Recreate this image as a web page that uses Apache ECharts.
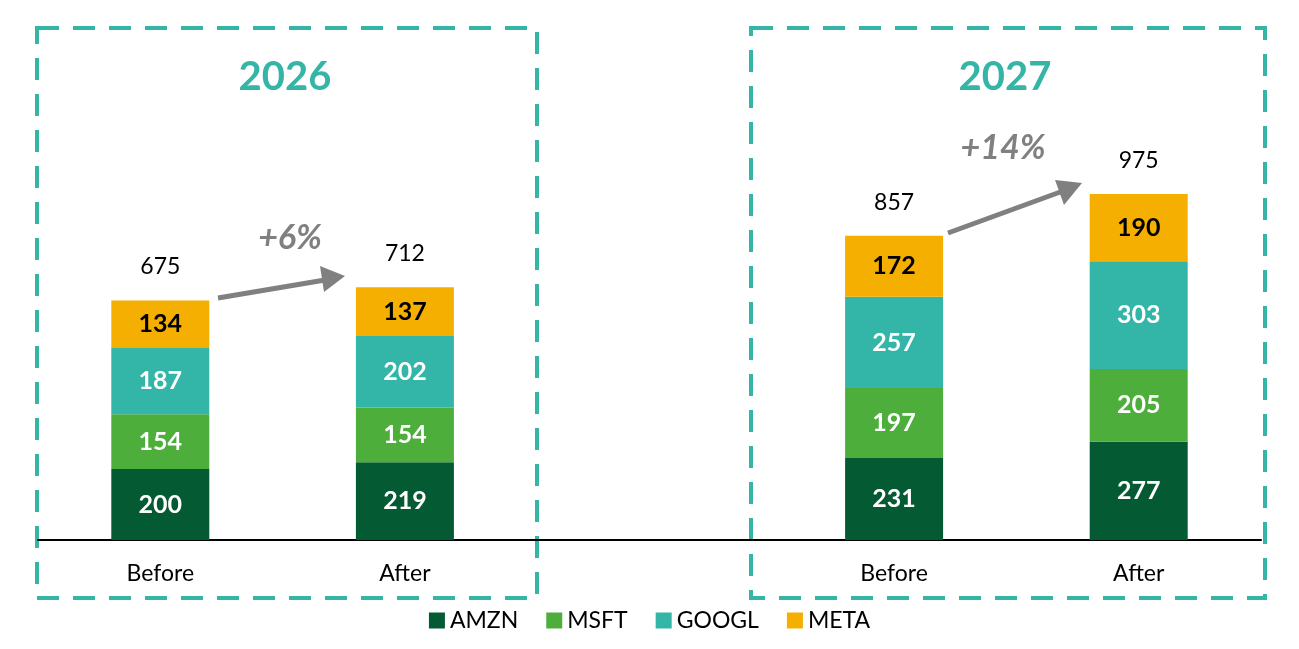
<!DOCTYPE html>
<html><head><meta charset="utf-8">
<script src="https://cdn.jsdelivr.net/npm/echarts@6/dist/echarts.min.js"></script>
<style>html,body{margin:0;background:#fff}#c{width:1299px;height:649px}</style>
</head><body><div id="c"></div>
<script>
var categories = ['Before', 'After', '', 'Before', 'After']
var amzn = [200, 219, null, 231, 277]
var msft = [154, 154, null, 197, 205]
var googl = [187, 202, null, 257, 303]
var meta = [134, 137, null, 172, 190]
var totals = [675, 712, null, 857, 975]

var chart = echarts.init(document.getElementById('c'))
var font = 'Lato, sans-serif'
var teal = '#35b5a6'

function seg(name, data, color, txt) {
  return {
    name: name, type: 'bar', stack: 'a', data: data, barWidth: 98,
    itemStyle: { color: color },
    label: { show: true, color: txt, fontSize: 25, fontWeight: 'bold', fontFamily: font }
  }
}

chart.setOption({
  animation: false,
  grid: { left: 38, right: 38, top: 114, bottom: 109 },
  xAxis: {
    type: 'category', data: categories,
    axisLine: { lineStyle: { color: '#000', width: 2 } },
    axisTick: { show: false },
    axisLabel: { color: '#000', fontSize: 23, fontFamily: font, margin: 22 }
  },
  yAxis: { type: 'value', min: 0, max: 1200, show: false, splitLine: { show: false } },
  legend: {
    bottom: 12, left: 'center', itemWidth: 16, itemHeight: 16, itemGap: 28,
    icon: 'rect', textStyle: { fontSize: 23, fontFamily: font, color: '#000' },
    data: ['AMZN', 'MSFT', 'GOOGL', 'META']
  },
  series: [
    seg('AMZN', amzn, '#045a32', '#fff'),
    seg('MSFT', msft, '#4dae3b', '#fff'),
    seg('GOOGL', googl, '#33b5a8', '#fff'),
    seg('META', meta, '#f5af00', '#000'),
    {
      name: 'Total', type: 'bar', stack: 'a',
      data: totals.map(function (t) { return t == null ? null : 0 }),
      label: {
        show: true, position: 'top', distance: 22, fontSize: 23, fontFamily: font, color: '#000',
        formatter: function (p) { return totals[p.dataIndex] }
      }
    }
  ],
  graphic: [
    { type: 'rect', shape: { x: 37, y: 28, width: 500, height: 570 },
      style: { fill: 'none', stroke: teal, lineWidth: 4, lineDash: [22, 14] } },
    { type: 'rect', shape: { x: 751, y: 28, width: 514, height: 570 },
      style: { fill: 'none', stroke: teal, lineWidth: 4, lineDash: [22, 14] } },
    { type: 'text', x: 285, y: 77, style: { text: '2026', fill: teal, fontSize: 40, fontWeight: 'bold', fontFamily: font, align: 'center', verticalAlign: 'middle' } },
    { type: 'text', x: 1005, y: 77, style: { text: '2027', fill: teal, fontSize: 40, fontWeight: 'bold', fontFamily: font, align: 'center', verticalAlign: 'middle' } },
    { type: 'line', shape: { x1: 218, y1: 298, x2: 325, y2: 280 }, style: { stroke: '#808080', lineWidth: 5 } },
    { type: 'polygon', shape: { points: [[345, 276], [320, 266], [324, 292]] }, style: { fill: '#808080' } },
    { type: 'line', shape: { x1: 948, y1: 233, x2: 1063, y2: 191 }, style: { stroke: '#808080', lineWidth: 5 } },
    { type: 'polygon', shape: { points: [[1082, 183], [1055, 180], [1064, 205]] }, style: { fill: '#808080' } },
    { type: 'text', x: 290, y: 238, style: { text: '+6%', fill: '#808080', fontSize: 34, fontWeight: 'bold', fontStyle: 'italic', fontFamily: font, align: 'center', verticalAlign: 'middle' } },
    { type: 'text', x: 1003, y: 148, style: { text: '+14%', fill: '#808080', fontSize: 34, fontWeight: 'bold', fontStyle: 'italic', fontFamily: font, align: 'center', verticalAlign: 'middle' } }
  ]
})
</script></body></html>
